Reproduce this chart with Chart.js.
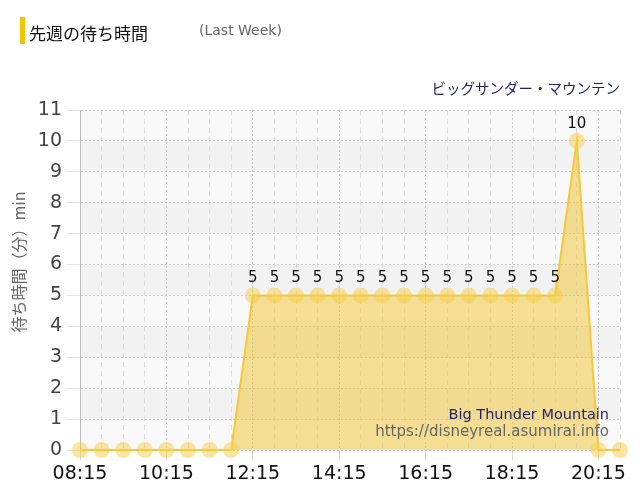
<!DOCTYPE html>
<html>
<head>
<meta charset="utf-8">
<script src="https://cdn.jsdelivr.net/npm/chart.js@4/dist/chart.umd.min.js"></script>
<style>
  html,body{margin:0;padding:0;background:#fff;}
  #wrap{position:relative;width:640px;height:500px;overflow:hidden;}
  #c{position:absolute;left:0;top:0;}
  .t{position:absolute;white-space:nowrap;}
  #bar{position:absolute;left:20px;top:17px;width:5px;height:27px;background:#f5c400;}
  #title{left:29px;top:20px;font:17px "Noto Sans CJK JP",sans-serif;color:#111;}
  #sub{left:199px;top:22px;font:14px "DejaVu Sans",sans-serif;color:#666;}
  #attr{right:20px;top:77px;font:14.5px "Noto Sans CJK JP",sans-serif;color:#22226a;}
  #en{right:31px;top:406px;font:14.5px "DejaVu Sans",sans-serif;color:#22226a;}
  #url{right:31px;top:422px;font:15px "DejaVu Sans",sans-serif;color:#666;}
</style>
</head>
<body>
<div id="wrap">
  <canvas id="c" width="640" height="500"></canvas>
  <div id="bar"></div>
  <div class="t" id="title">先週の待ち時間</div>
  <div class="t" id="sub">(Last Week)</div>
  <div class="t" id="attr">ビッグサンダー・マウンテン</div>
  <div class="t" id="en">Big Thunder Mountain</div>
  <div class="t" id="url">https://disneyreal.asumirai.info</div>
</div>
<script>
const times = ["08:15","08:45","09:15","09:45","10:15","10:45","11:15","11:45",
  "12:15","12:45","13:15","13:45","14:15","14:45","15:15","15:45",
  "16:15","16:45","17:15","17:45","18:15","18:45","19:15","19:45",
  "20:15","20:45"];
const waitMinutes = [0,0,0,0,0,0,0,0,
  5,5,5,5,5,5,5,5,
  5,5,5,5,5,5,5,10,
  0,0];
const yTicks = [0,1,2,3,4,5,6,7,8,9,10,11];
const yTitle = "待ち時間（分）min";
const labelEvery = 4;

const bands = {
  id:'bands',
  beforeDraw(chart){
    const {ctx, chartArea:a, scales:{y}} = chart;
    ctx.save();
    for(let v=0; v<11; v++){
      const top = y.getPixelForValue(v+1), bot = y.getPixelForValue(v);
      ctx.fillStyle = (v%2===0) ? '#f8f8f8' : '#f2f2f2';
      ctx.fillRect(a.left, top, a.right-a.left, bot-top);
    }
    ctx.restore();
  }
};
const yAxisTitle = {
  id:'yAxisTitle',
  afterDraw(chart){
    const {ctx} = chart;
    ctx.save();
    ctx.translate(19, 262);
    ctx.rotate(-Math.PI/2);
    ctx.font = '16px "Noto Sans CJK JP", sans-serif';
    ctx.fillStyle = '#666';
    ctx.textAlign = 'center';
    ctx.textBaseline = 'middle';
    ctx.fillText(yTitle, 0, 0);
    ctx.restore();
  }
};
const valueLabels = {
  id:'valueLabels',
  afterDatasetsDraw(chart){
    const {ctx} = chart;
    const meta = chart.getDatasetMeta(0);
    ctx.save();
    ctx.font = '15px "DejaVu Sans", sans-serif';
    ctx.fillStyle = '#111';
    ctx.textAlign = 'center';
    ctx.textBaseline = 'middle';
    meta.data.forEach((pt,i)=>{
      const v = waitMinutes[i];
      if(v>0) ctx.fillText(String(v), pt.x, pt.y-17);
    });
    ctx.restore();
  }
};

new Chart(document.getElementById('c'), {
  type:'line',
  data:{
    labels: times,
    datasets:[{
      data: waitMinutes,
      borderColor:'#f5c83a',
      borderWidth:2,
      backgroundColor:'rgba(238,196,48,0.5)',
      fill:'origin',
      tension:0,
      clip:false,
      pointRadius:8,
      pointHoverRadius:8,
      pointBorderWidth:0,
      pointBackgroundColor:'rgba(245,205,70,0.5)'
    }]
  },
  options:{
    responsive:false,
    animation:false,
    events:[],
    layout:{padding:{top:110,right:20,left:0,bottom:0}},
    plugins:{legend:{display:false},tooltip:{enabled:false}},
    scales:{
      x:{
        offset:false,
        afterFit(s){ s.height = 50; },
        grid:{
          color:(c)=> (c.index%labelEvery===0) ? '#c8c8c8' : '#dcdcdc',
          tickColor:(c)=> (c.index%labelEvery===0) ? '#d8d8d8' : 'rgba(0,0,0,0)',
          tickLength:10,
          lineWidth:1
        },
        border:{
          display:false,
          dash:(c)=> (c.index%labelEvery===0) ? [2,2] : [5,4]
        },
        ticks:{
          autoSkip:false,
          maxRotation:0,
          padding:3,
          color:'#111',
          font:{family:'"DejaVu Sans", sans-serif', size:19},
          callback:(v,i)=> (i%labelEvery===0) ? times[i] : ''
        }
      },
      y:{
        min:0,max:11,
        afterFit(s){ s.width = 80; },
        afterBuildTicks(s){ s.ticks = yTicks.map(v=>({value:v})); },
        grid:{
          color:'#c8c8c8',
          tickColor:'#e4e4e4',
          tickLength:13,
          lineWidth:1
        },
        border:{display:true,color:'#bbbbbb',width:1,dash:[2,2]},
        ticks:{
          padding:5,
          color:'#444',
          font:{family:'"DejaVu Sans", sans-serif', size:19}
        },
        title:{display:false}
      }
    }
  },
  plugins:[bands, yAxisTitle, valueLabels]
});
</script>
</body>
</html>
